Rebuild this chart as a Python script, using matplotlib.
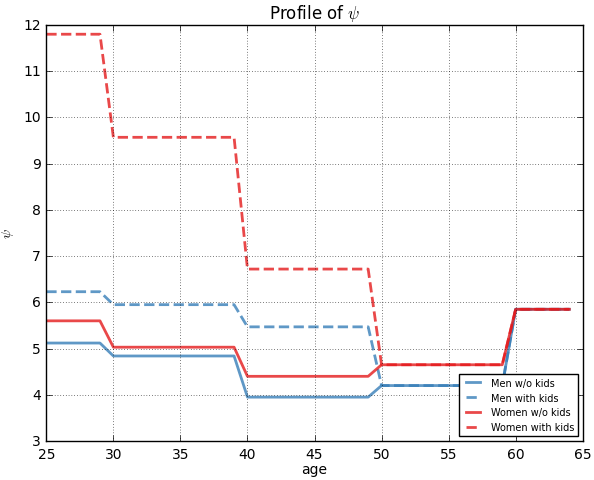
import numpy as np
import matplotlib
matplotlib.use('Agg')
import matplotlib.pyplot as plt

plt.style.use('classic')
plt.rcParams['lines.scale_dashes'] = True
plt.rcParams['lines.dashed_pattern'] = [3.7, 1.6]

# age groups and step values of psi
ages = np.arange(25, 65)
group_edges = [25, 30, 40, 50, 60, 65]
men_nokids = [5.12, 4.84, 3.95, 4.20, 5.85]
men_kids = [6.23, 5.95, 5.47, 4.20, 5.85]
women_nokids = [5.60, 5.03, 4.40, 4.65, 5.85]
women_kids = [11.80, 9.57, 6.72, 4.65, 5.85]


def expand(vals):
    out = []
    for v, a, b in zip(vals, group_edges[:-1], group_edges[1:]):
        out += [v] * (b - a)
    return np.array(out)


blue = '#377eb8'
red = '#e41a1c'

fig = plt.figure(figsize=(5.94, 4.81), dpi=100, facecolor='white')
ax = fig.add_axes([0.078, 0.081, 0.903, 0.865])

ax.plot(ages, expand(men_nokids), '-', color=blue, lw=2, alpha=0.8, label='Men w/o kids')
ax.plot(ages, expand(men_kids), '--', color=blue, lw=2, alpha=0.8, label='Men with kids')
ax.plot(ages, expand(women_nokids), '-', color=red, lw=2, alpha=0.8, label='Women w/o kids')
ax.plot(ages, expand(women_kids), '--', color=red, lw=2, alpha=0.8, label='Women with kids')

ax.set_xlim(25, 65)
ax.set_ylim(3, 12)
ax.grid(True)
ax.tick_params(labelsize=10)
ax.set_title(r'Profile of $\psi$', fontsize=12)
ax.set_xlabel('age', fontsize=10, labelpad=1)
ax.set_ylabel(r'$\psi$', fontsize=10)
ax.legend(loc='lower right', fontsize=7)

fig.savefig('out.png', dpi=100, facecolor='white')
